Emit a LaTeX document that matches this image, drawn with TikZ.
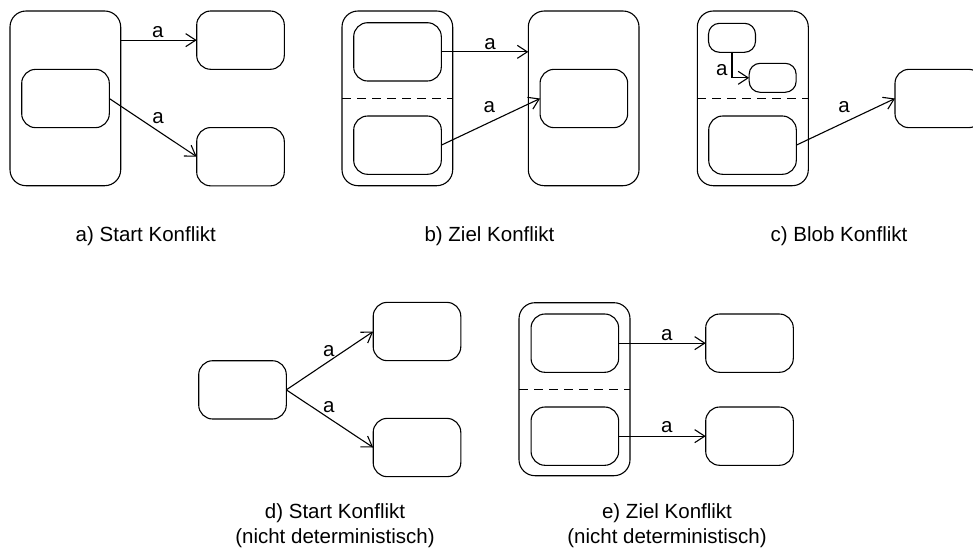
\documentclass[tikz,border=0pt]{standalone}
\usepackage{fontspec}
\setmainfont{Liberation Sans}
\usetikzlibrary{arrows.meta}
\begin{document}
\begin{tikzpicture}[x=1pt, y=-1pt,
  every node/.style={inner sep=0pt, outer sep=0pt},
  state/.style={draw, line width=1.1pt, rounded corners=14pt, minimum width=87.6pt, minimum height=58.3pt},
  small/.style={draw, line width=1.1pt, rounded corners=11pt, minimum width=47pt, minimum height=29pt},
  super/.style={draw, line width=1.1pt, rounded corners=16pt, minimum width=110.7pt, minimum height=174.7pt},
  region/.style={line width=1.1pt, dash pattern=on 9pt off 6pt},
  trans/.style={line width=1.1pt, -{Straight Barb[length=10pt, width=13pt, line width=1.1pt]}},
  lbl/.style={font=\fontsize{20.5}{24.5}\selectfont, anchor=base},
  captxt/.style={font=\fontsize{20.5}{24.5}\selectfont, align=center, anchor=base}
]
\useasboundingbox (0,0) rectangle (973,550);
\clip (0,0) rectangle (973,550);

% a) start conflict
\node[super] (Ao) at (65.35,98.35) {};
\node[state] (Ai) at (65.5,98.5) {};
\node[state] (At) at (240.5,40.15) {};
\node[state] (Ab) at (240.5,156.7) {};
\draw[trans] (At.west -| Ao.east) -- (At.west);
\draw[trans] (Ai.east) -- (Ab.west);
\node[lbl] (la1) at (157.7,37.3) {a};
\node[lbl] (la2) at (158,123.3) {a};
\node[captxt] (capa) at (145.8,241.7) {a) Start Konflikt};

% b) target conflict
\node[super] (Bo) at (397.35,98.35) {};
\node[state] (Bt) at (397.5,51.85) {};
\node[state] (Bb) at (397.5,145.15) {};
\draw[region] (Bo.west) -- (Bo.east);
\node[super] (Br) at (583.65,98.35) {};
\node[state] (Bri) at (583.85,98.5) {};
\draw[trans] (Bt.east) -- (Bt.east -| Br.west);
\draw[trans] (Bb.east) -- (Bri.west);
\node[lbl] (lb1) at (490,49.3) {a};
\node[lbl] (lb2) at (489.3,112.3) {a};
\node[captxt] (capb) at (489.5,241.7) {b) Ziel Konflikt};

% c) blob conflict
\node[super, minimum width=111pt] (Co) at (752.8,98.35) {};
\node[small] (Cs1) at (732,37.8) {};
\node[small] (Cs2) at (772.65,77.8) {};
\draw[trans] (Cs1.south) |- (Cs2.west);
\draw[region] (Co.west) -- (Co.east);
\node[state] (Cb) at (752.5,145.15) {};
\node[state] (Cr) at (938.8,98.5) {};
\draw[trans] (Cb.east) -- (Cr.west);
\node[lbl] (lc1) at (721.7,75) {a};
\node[lbl] (lc2) at (844,112.3) {a};
\node[captxt] (capc) at (839,241.7) {c) Blob Konflikt};

% d) start conflict, non-deterministic (base anchor sits on the last line)
\node[state] (Dl) at (242.5,389.85) {};
\node[state] (Dt) at (417,331.5) {};
\node[state] (Db) at (417,447.5) {};
\draw[trans] (Dl.east) -- (Dt.west);
\draw[trans] (Dl.east) -- (Db.west);
\node[lbl] (ld1) at (328.7,356) {a};
\node[lbl] (ld2) at (328.7,412.7) {a};
\node[captxt] (capd) at (335,543.3) {d) Start Konflikt\\(nicht deterministisch)};

% e) target conflict, non-deterministic
\node[super, minimum width=111pt, minimum height=173pt] (Eo) at (574.5,389.2) {};
\node[state] (Et) at (574.85,343.15) {};
\node[state] (Eb) at (574.85,436.15) {};
\draw[region] (Eo.west) -- (Eo.east);
\node[state] (Ert) at (749.5,343.15) {};
\node[state] (Erb) at (749.5,436.15) {};
\draw[trans] (Et.east) -- (Ert.west);
\draw[trans] (Eb.east) -- (Erb.west);
\node[lbl] (le1) at (666.7,340) {a};
\node[lbl] (le2) at (666.7,432.7) {a};
\node[captxt] (cape) at (667,543.3) {e) Ziel Konflikt\\(nicht deterministisch)};
\end{tikzpicture}
\end{document}
